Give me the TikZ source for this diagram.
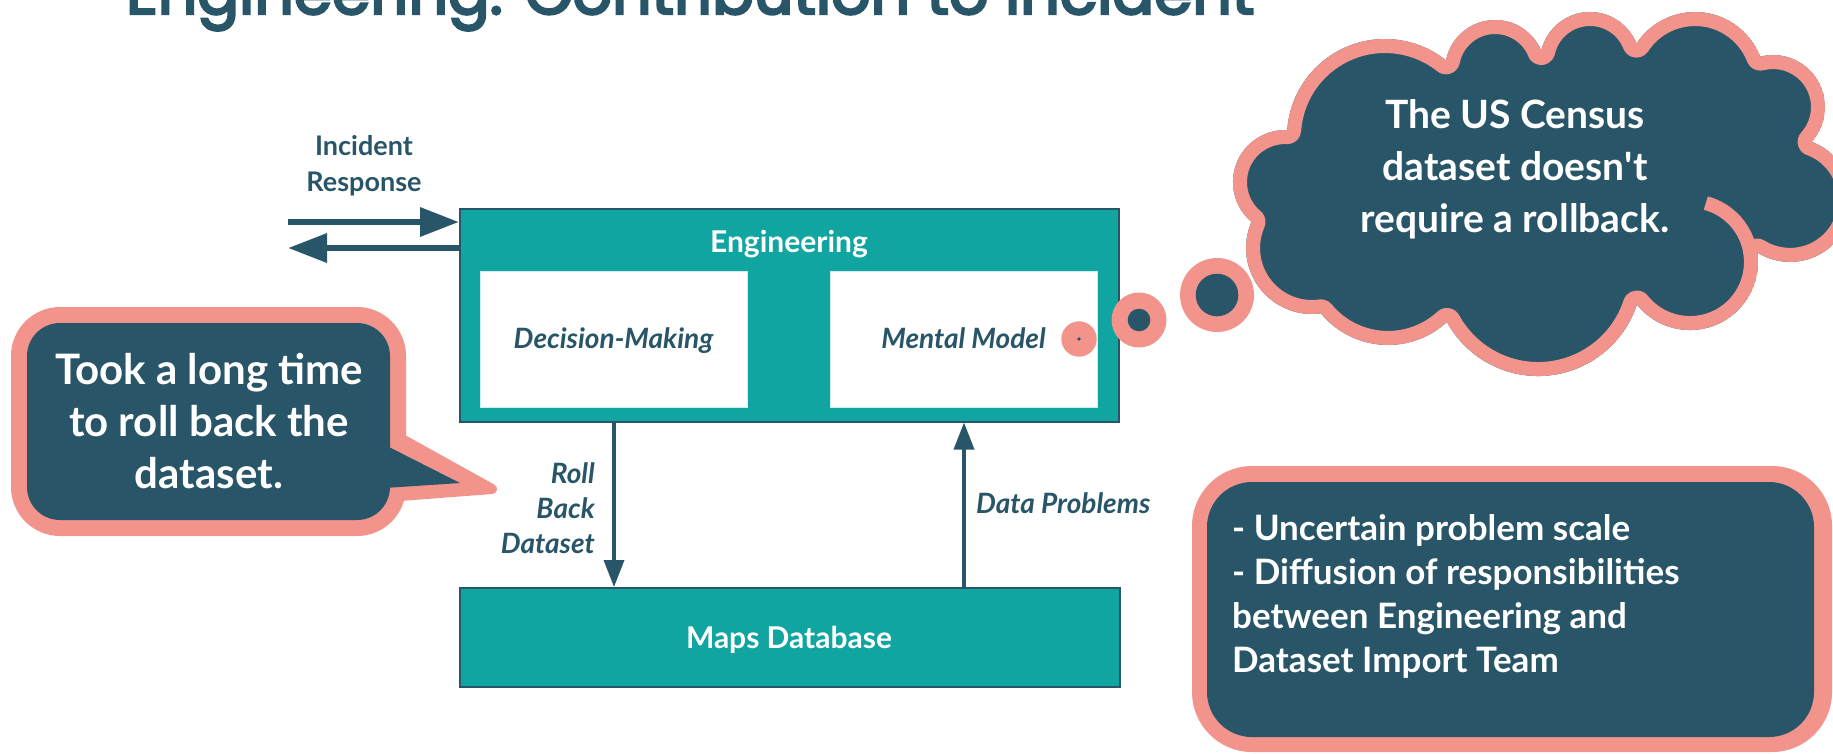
\documentclass[tikz,border=0pt]{standalone}
\usepackage{fontspec}
\setmainfont{Lato}
\newfontfamily\titlefont{Poppins}[FakeBold=4]
\usetikzlibrary{arrows.meta}
\definecolor{dk}{HTML}{285568}
\definecolor{tl}{HTML}{10A5A0}
\definecolor{pk}{HTML}{F2938C}
\tikzset{cloudpath/.style={insert path={(1251.4,221.8)
 arc[start angle=130.2,end angle=272.4,radius=52] -- (1287.2,130.0)
 arc[start angle=184.1,end angle=308.5,radius=98] -- (1446.0,60.3)
 arc[start angle=191.2,end angle=337.6,radius=50] -- (1541.2,51.0)
 arc[start angle=192.7,end angle=338.4,radius=50] -- (1636.5,43.6)
 arc[start angle=213.3,end angle=338.7,radius=70] -- (1760.3,56.6)
 arc[start angle=255.9,end angle=402.0,radius=52] -- (1811.6,141.8)
 arc[start angle=-69.6,end angle=121.8,radius=62] -- (1757.3,252.7)
 arc[start angle=-7.9,end angle=141.3,radius=68] -- (1636.9,304.5)
 arc[start angle=18.2,end angle=151.2,radius=104] -- (1446.9,322.0)
 arc[start angle=47.4,end angle=140.5,radius=87] -- (1320.9,313.4)
 arc[start angle=82.3,end angle=203.4,radius=66] -- cycle}}}
\begin{document}
\begin{tikzpicture}[x=1pt,y=-1pt,
  box/.style={draw=dk, line width=1.5pt, fill=tl, inner sep=0pt, anchor=north west},
  wbox/.style={fill=white, draw=white!80!tl, line width=1pt, inner sep=0pt, anchor=north west},
  wlbl/.style={text=white, font=\bfseries\fontsize{30}{36}\selectfont, inner sep=0pt, anchor=base},
  ilbl/.style={text=dk, font=\bfseries\itshape\fontsize{28}{35}\selectfont, inner sep=0pt},
  dlbl/.style={text=dk, font=\bfseries\fontsize{27}{36}\selectfont, inner sep=0pt, align=center, anchor=base},
  bigarr/.style={draw=dk, line width=6.5pt, -{Triangle[length=39pt,width=28pt]}},
  thinarr/.style={draw=dk, line width=3.5pt, -{Triangle[length=27pt,width=20pt]}},
  calltext/.style={text=white, inner sep=0pt},
  seam/.style={pk, line width=14pt}
]
\useasboundingbox (0,0) rectangle (1833,753);
% title (cut by the top edge)
\node[anchor=base west, inner sep=0pt, text=dk] (title) at (126,14) {\resizebox{1128pt}{!}{\titlefont Engineering: Contribution to Incident}};

% main boxes
\node[box, minimum width=659pt, minimum height=213pt] (eng) at (459,208) {};
\node[wlbl] (englbl) at (789,252) {Engineering};
\node[wbox, minimum width=267pt, minimum height=136pt] (dm) at (480,271) {};
\node[wbox, minimum width=267pt, minimum height=136pt] (mm) at (830,271) {};
\node[ilbl, anchor=base] (dmt) at (613.5,348) {Decision-Making};
\node[ilbl, anchor=base] (mmt) at (963.5,348) {Mental Model};
\node[box, minimum width=660pt, minimum height=99pt] (maps) at (459,587) {};
\node[wlbl] (mapslbl) at (789,648) {Maps Database};

% vertical arrows
\draw[thinarr] (dm.center |- eng.south) -- (dm.center |- maps.north);
\draw[thinarr] (mm.center |- maps.north) -- (mm.center |- eng.south);
\node[ilbl, anchor=base east, align=right] (rb) at (595,553) {Roll\\Back\\Dataset};
\node[ilbl, anchor=base west] (dp) at (976,513) {Data Problems};

% incident response
\node[dlbl] (ir) at (364,191) {Incident\\Response};
\coordinate (ira) at (288,222);
\coordinate (irb) at (288,248);
\draw[bigarr] (ira) -- (ira -| eng.west);
\draw[bigarr] (irb -| eng.west) -- (irb);

% thought bubbles
\fill[pk] (1079,339) circle[radius=17.7];
\fill[dk] (1079,339) circle[radius=1.8];
\fill[pk] (1139,320) circle[radius=27.5];
\fill[dk] (1139,320) circle[radius=11.3];
\fill[pk] (1217,295) circle[radius=37];
\fill[dk] (1217,295) circle[radius=21.3];

% cloud
\begin{scope}
  \clip[cloudpath];
  \fill[dk, cloudpath];
  \draw[pk, line width=28pt, line join=round, cloudpath];
\end{scope}
\draw[seam] (1690,262) ++(-75:61) arc[start angle=-75,end angle=-8,radius=61];
\node[calltext, font=\bfseries\fontsize{39}{52}\selectfont, align=center, anchor=base] (ct) at (1515,232) {The US Census\\dataset doesn\textquotesingle t\\require a rollback.};

% left callout
\fill[pk, rounded corners=49pt] (11,307) rectangle (406,536);
\fill[pk, draw=pk, line width=10pt, line join=round] (400,438) -- (492,489) -- (400,496) -- cycle;
\fill[dk, rounded corners=33pt] (27,323) rectangle (390,520);
\fill[dk] (385,445) -- (460,483) -- (385,488) -- cycle;
\node[calltext, font=\bfseries\fontsize{42}{52}\selectfont, align=center, anchor=base] (lt) at (209,488) {Took a long time\\to roll back the\\dataset.};

% right box
\fill[pk, rounded corners=60pt] (1192,466) rectangle (1832,752);
\fill[dk, rounded corners=45pt] (1207,482) rectangle (1814,737);
\node[calltext, font=\bfseries\fontsize{35}{44}\selectfont, align=left, anchor=base west] (rt) at (1232,672) {- Uncertain problem scale\\- Diffusion of responsibilities\\between Engineering and\\Dataset Import Team};
\end{tikzpicture}
\end{document}
